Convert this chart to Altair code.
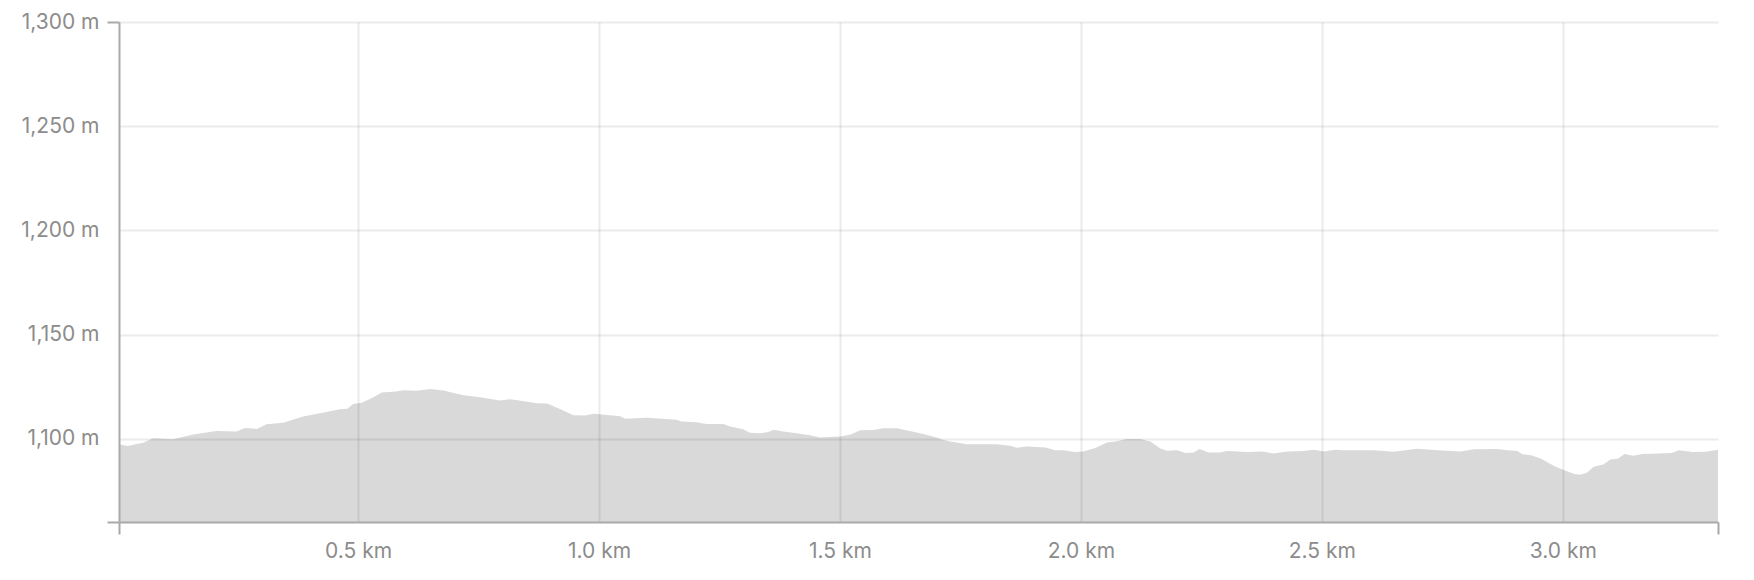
import altair as alt
import pandas as pd

distance_km = [
    0.004, 0.022, 0.054, 0.075, 0.116, 0.158, 0.206, 0.248, 0.265, 0.290,
    0.310, 0.345, 0.386, 0.421, 0.463, 0.478, 0.490, 0.508, 0.532, 0.549,
    0.580, 0.594, 0.622, 0.650, 0.677, 0.719, 0.753, 0.795, 0.816, 0.838,
    0.871, 0.892, 0.919, 0.947, 0.971, 0.989, 1.044, 1.054, 1.099, 1.161,
    1.171, 1.202, 1.223, 1.258, 1.272, 1.299, 1.313, 1.334, 1.351, 1.363,
    1.382, 1.410, 1.438, 1.459, 1.500, 1.521, 1.542, 1.569, 1.590, 1.618,
    1.645, 1.673, 1.697, 1.715, 1.729, 1.763, 1.825, 1.853, 1.867, 1.888,
    1.926, 1.947, 1.964, 1.988, 2.005, 2.030, 2.054, 2.071, 2.095, 2.123,
    2.144, 2.165, 2.179, 2.200, 2.217, 2.234, 2.246, 2.265, 2.289, 2.303,
    2.345, 2.376, 2.400, 2.428, 2.462, 2.483, 2.504, 2.528, 2.547, 2.608,
    2.649, 2.698, 2.740, 2.788, 2.816, 2.864, 2.885, 2.906, 2.916, 2.934,
    2.955, 2.983, 3.003, 3.024, 3.036, 3.050, 3.064, 3.084, 3.099, 3.114,
    3.128, 3.145, 3.166, 3.201, 3.226, 3.241, 3.269, 3.296, 3.322,
]
elevation_m = [
    1097.3, 1096.5, 1098.0, 1100.2, 1099.7, 1102.0, 1103.7, 1103.4, 1105.1, 1104.7,
    1106.9, 1107.7, 1110.6, 1112.2, 1114.1, 1114.4, 1116.7, 1117.3, 1119.9, 1122.2,
    1122.6, 1123.3, 1123.0, 1123.8, 1123.1, 1120.9, 1119.9, 1118.3, 1118.9, 1118.2,
    1117.0, 1116.9, 1114.3, 1111.2, 1111.1, 1112.0, 1110.8, 1109.6, 1110.1, 1109.1,
    1108.2, 1107.9, 1107.1, 1107.1, 1105.8, 1104.5, 1102.9, 1102.6, 1103.2, 1104.3,
    1103.4, 1102.6, 1101.6, 1100.6, 1101.1, 1101.9, 1104.0, 1104.2, 1105.0, 1105.0,
    1103.7, 1102.2, 1100.8, 1099.4, 1098.7, 1097.3, 1097.3, 1096.6, 1095.7, 1096.3,
    1095.8, 1094.5, 1094.5, 1093.6, 1093.9, 1095.5, 1098.2, 1098.6, 1099.8, 1099.8,
    1098.6, 1095.3, 1094.2, 1094.5, 1093.1, 1093.4, 1095.0, 1093.4, 1093.4, 1094.1,
    1093.6, 1093.9, 1092.9, 1093.9, 1094.1, 1094.7, 1093.9, 1094.7, 1094.4, 1094.5,
    1093.7, 1095.2, 1094.5, 1093.9, 1094.9, 1095.0, 1094.4, 1094.1, 1092.5, 1092.1,
    1090.4, 1086.8, 1084.9, 1083.0, 1082.7, 1083.6, 1086.5, 1087.6, 1090.0, 1090.4,
    1092.6, 1091.8, 1092.6, 1092.9, 1093.1, 1094.4, 1093.6, 1093.7, 1094.7,
]

x_ticks = [0.004, 0.5, 1.0, 1.5, 2.0, 2.5, 3.0, 3.322]
y_ticks = [1060, 1100, 1150, 1200, 1250, 1300]
x_domain = [0.004, 3.322]
y_domain = [1060, 1300]

df = pd.DataFrame({"km": distance_km, "elev": elevation_m})

FONT = "Inter"
LABEL_COLOR = "#8c8c8c"
AXIS_COLOR = "#a9a9a9"

x_axis = alt.Axis(
    values=x_ticks,
    title=None,
    labelExpr="datum.value > 0.01 && datum.value < 3.2 ? format(datum.value, '.1f') + ' km' : ''",
    labelFont=FONT,
    labelFontSize=21,
    labelColor=LABEL_COLOR,
    labelPadding=6,
    labelOverlap=False,
    labelFlush=False,
    tickSize=12,
    tickWidth=2,
    tickColor=AXIS_COLOR,
    tickOpacity={"condition": {"test": "datum.value < 0.01 || datum.value > 3.2", "value": 1}, "value": 0},
    domainColor=AXIS_COLOR,
    domainWidth=2,
    grid=True,
    gridColor="#000000",
    gridOpacity={"condition": {"test": "datum.value > 0.01 && datum.value < 3.2", "value": 0.08}, "value": 0},
    gridWidth=2,
    zindex=1,
)

y_axis = alt.Axis(
    values=y_ticks,
    title=None,
    labelExpr="datum.value >= 1100 ? format(datum.value, ',') + ' m' : ''",
    labelFont=FONT,
    labelFontSize=21,
    labelColor=LABEL_COLOR,
    labelPadding=8,
    labelOverlap=False,
    labelFlush=False,
    tickSize=12,
    tickWidth=2,
    tickColor=AXIS_COLOR,
    tickOpacity={"condition": {"test": "datum.value < 1061 || datum.value > 1299", "value": 1}, "value": 0},
    domainColor=AXIS_COLOR,
    domainWidth=2,
    grid=True,
    gridColor="#000000",
    gridOpacity={"condition": {"test": "datum.value > 1061", "value": 0.08}, "value": 0},
    gridWidth=2,
    zindex=1,
)

chart = (
    alt.Chart(df)
    .mark_area(color="#d9d9d9", interpolate="linear", clip=True)
    .encode(
        x=alt.X("km:Q", scale=alt.Scale(domain=x_domain, nice=False, zero=False), axis=x_axis),
        y=alt.Y("elev:Q", scale=alt.Scale(domain=y_domain, nice=False, zero=False), axis=y_axis),
    )
    .properties(
        width=1599,
        height=500,
        autosize=alt.AutoSizeParams(type="none"),
        padding={"left": 111, "top": 14, "right": 28, "bottom": 50},
        background="#ffffff",
    )
    .configure_view(strokeWidth=0)
)

chart.save("out.html", embed_options={"renderer": "svg", "actions": False})
